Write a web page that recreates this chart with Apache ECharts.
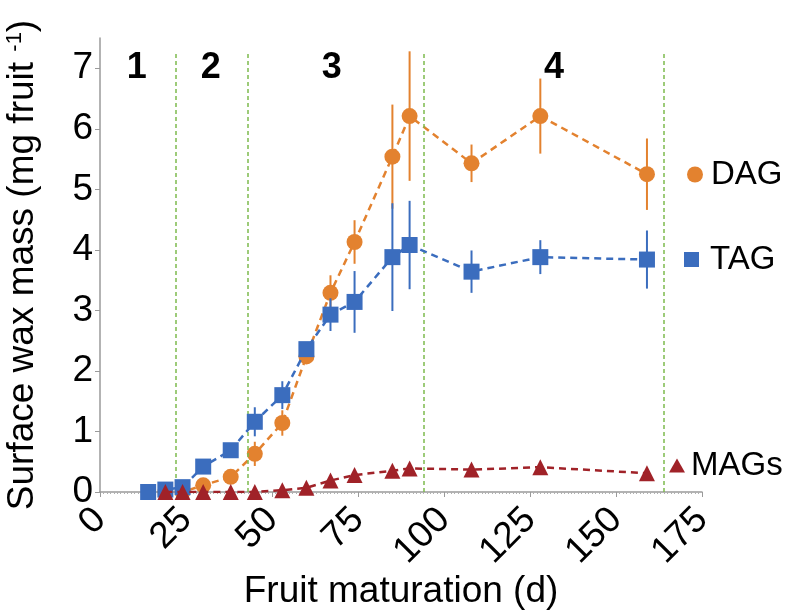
<!DOCTYPE html>
<html>
<head>
<meta charset="utf-8">
<script src="https://cdn.jsdelivr.net/npm/echarts@6/dist/echarts.min.js"></script>
<style>
html,body{margin:0;padding:0;background:#fff;}
#chart{width:797px;height:610px;}
</style>
</head>
<body>
<div id="chart"></div>
<script>
// ---- data ----
var days = [14, 19, 24, 30, 38, 45, 53, 60, 67, 74, 85, 90, 108, 128, 159];
var dagValues = [null, 0, 0, 0.11, 0.25, 0.63, 1.14, 2.24, 3.29, 4.13, 5.54, 6.21, 5.43, 6.21, 5.25];
var dagErrors = [null, 0, 0, 0.03, 0.05, 0.20, 0.21, 0.10, 0.29, 0.36, 0.86, 1.07, 0.31, 0.62, 0.59];
var tagValues = [0, 0.04, 0.08, 0.42, 0.69, 1.16, 1.60, 2.36, 2.93, 3.14, 3.88, 4.08, 3.64, 3.88, 3.84];
var tagErrors = [0, 0, 0, 0.03, 0.05, 0.24, 0.23, 0.05, 0.27, 0.51, 0.89, 0.73, 0.35, 0.28, 0.48];
var magValues = [null, 0, 0, 0, 0, 0, 0.03, 0.07, 0.19, 0.28, 0.35, 0.39, 0.37, 0.41, 0.31];
var phaseBoundaries = [22, 43, 94, 164];
var phaseNames = ['1', '2', '3', '4'];
var phaseLabelX = [10.7, 32.2, 67.4, 132];
var phaseLabelY = 7.0;
var phaseLineTop = 7.28;
var xTicks = [0, 25, 50, 75, 100, 125, 150, 175];
var yTicks = [0, 1, 2, 3, 4, 5, 6, 7];

// ---- styles ----
var FONT = 'Liberation Sans, Arial, sans-serif';
var C_DAG = '#E3822F', C_TAG = '#3B6DBE', C_MAG = '#A02228', C_PHASE = '#7DBB4E';

function pairs(vals) {
  var out = [];
  for (var i = 0; i < days.length; i++) if (vals[i] !== null) out.push([days[i], vals[i]]);
  return out;
}
function errPairs(vals, errs) {
  var out = [];
  for (var i = 0; i < days.length; i++) if (vals[i] !== null && errs[i]) out.push([days[i], vals[i] - errs[i], vals[i] + errs[i]]);
  return out;
}
function errSeries(vals, errs, color, z) {
  return {
    type: 'custom', silent: true, z: z,
    data: errPairs(vals, errs),
    encode: { x: 0, y: [1, 2] },
    renderItem: function (params, api) {
      var lo = api.coord([api.value(0), api.value(1)]);
      var hi = api.coord([api.value(0), api.value(2)]);
      return { type: 'line', shape: { x1: lo[0], y1: lo[1], x2: hi[0], y2: hi[1] },
               style: { stroke: color, lineWidth: 2 } };
    }
  };
}
function lineSeries(name, vals, color, symbol, z) {
  return {
    name: name, type: 'line', data: pairs(vals), z: z,
    symbol: symbol, symbolSize: 16,
    showAllSymbol: true, connectNulls: true,
    itemStyle: { color: color, opacity: 1 },
    lineStyle: { color: color, width: 2.5, type: [7, 5] },
    emphasis: { disabled: true }
  };
}

var phaseLabelData = phaseNames.map(function (n, i) { return { name: n, value: [phaseLabelX[i], phaseLabelY] }; });
var phaseLineData = phaseBoundaries.map(function (x) { return [{ coord: [x, 0] }, { coord: [x, phaseLineTop] }]; });

var chart = echarts.init(document.getElementById('chart'), null, { renderer: 'canvas' });
chart.setOption({
  backgroundColor: '#fff',
  animation: false,
  textStyle: { fontFamily: FONT },
  grid: { left: 100, right: 95, top: 38, bottom: 118, containLabel: false, outerBoundsMode: 'none' },
  legend: [
    { data: [{ name: 'DAG', icon: 'circle' }], left: 687, top: 158, padding: 0, itemWidth: 16, itemHeight: 16,
      textStyle: { fontSize: 33, color: '#000', fontFamily: FONT, padding: [0, 0, 0, 3] }, selectedMode: false },
    { data: [{ name: 'TAG', icon: 'rect' }], left: 684, top: 243, padding: 0, itemWidth: 15, itemHeight: 15,
      textStyle: { fontSize: 33, color: '#000', fontFamily: FONT, padding: [0, 0, 0, 6] }, selectedMode: false },
    { data: [{ name: 'MAGs', icon: 'triangle' }], left: 669, top: 449, padding: 0, itemWidth: 16, itemHeight: 14,
      textStyle: { fontSize: 33, color: '#000', fontFamily: FONT, padding: [0, 0, 0, 1] }, selectedMode: false }
  ],
  xAxis: {
    type: 'value', min: 0, max: 175, interval: 25,
    name: 'Fruit maturation (d)', nameLocation: 'middle', nameGap: 81, nameMoveOverlap: false,
    nameTextStyle: { fontSize: 37, color: '#000', fontFamily: FONT },
    axisLine: { show: true, onZero: false, lineStyle: { color: '#9a9a9a', width: 1.5 } },
    axisTick: { show: true, length: 5, lineStyle: { color: '#9a9a9a' }, customValues: xTicks },
    minorTick: { show: true, splitNumber: 25, length: 2, lineStyle: { color: '#b0b0b0' } },
    splitLine: { show: false }, minorSplitLine: { show: false },
    axisLabel: { rotate: 45, fontSize: 37, margin: 22, color: '#000', fontFamily: FONT, customValues: xTicks }
  },
  yAxis: {
    type: 'value', min: 0, max: 7.5, interval: 1,
    name: 'Surface wax mass (mg fruit {sup|-1})', nameLocation: 'middle', nameGap: 58, nameMoveOverlap: false,
    nameTextStyle: { fontSize: 37, color: '#000', fontFamily: FONT,
      rich: { sup: { fontSize: 22, verticalAlign: 'top', padding: [0, 0, 16, 0], color: '#000', fontFamily: FONT } } },
    axisLine: { show: true, lineStyle: { color: '#9a9a9a', width: 1.5 } },
    axisTick: { show: true, length: 5, lineStyle: { color: '#9a9a9a' }, customValues: yTicks },
    splitLine: { show: false },
    axisLabel: { fontSize: 37, margin: 7, color: '#000', fontFamily: FONT, customValues: yTicks }
  },
  series: [
    {
      type: 'scatter', silent: true, symbolSize: 0, z: 1,
      data: phaseLabelData,
      label: { show: true, position: 'inside', formatter: '{b}', fontSize: 36, fontWeight: 'bold', color: '#000', opacity: 1, fontFamily: FONT },
      markLine: {
        silent: true, symbol: 'none', label: { show: false },
        lineStyle: { color: C_PHASE, type: [4, 3], width: 1.5 },
        data: phaseLineData
      }
    },
    errSeries(dagValues, dagErrors, C_DAG, 2),
    lineSeries('DAG', dagValues, C_DAG, 'circle', 3),
    errSeries(tagValues, tagErrors, C_TAG, 4),
    lineSeries('TAG', tagValues, C_TAG, 'rect', 5),
    lineSeries('MAGs', magValues, C_MAG, 'triangle', 6)
  ]
});
</script>
</body>
</html>
